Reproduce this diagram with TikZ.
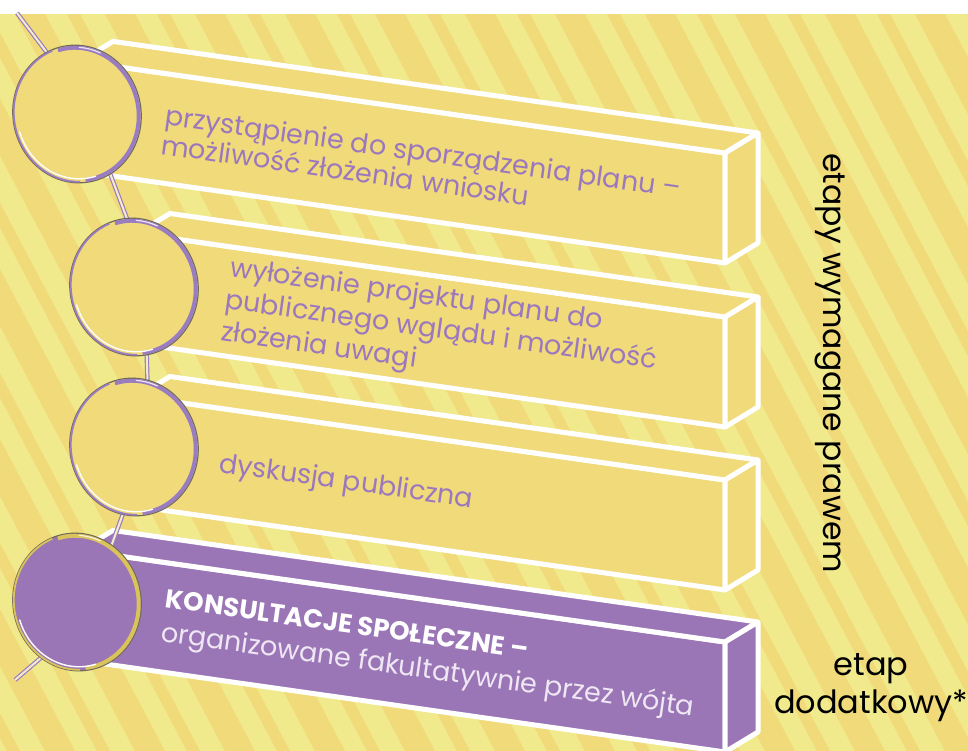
\documentclass[tikz,border=0pt]{standalone}
\usepackage{fontspec}
\setmainfont{Poppins}
\usetikzlibrary{shapes.geometric}
\definecolor{bglight}{HTML}{F0EA8C}
\definecolor{bgdark}{HTML}{F1DA7A}
\definecolor{barfill}{HTML}{F1DA7A}
\definecolor{barpurple}{HTML}{9B76B7}
\definecolor{txtpurple}{HTML}{9B78BE}
\definecolor{rimpurple}{HTML}{9A7CC0}
\definecolor{rimgold}{HTML}{D9C35A}
\definecolor{rimdark}{HTML}{6E6A55}
\definecolor{lavtext}{HTML}{EFE7F4}
\definecolor{threadin}{HTML}{F3ECC8}
\tikzset{
  facestyle/.style={draw=white, line width=5pt, line join=round},
  disc/.style={ellipse, minimum width=128pt, minimum height=138pt, inner sep=0pt, rotate=12, line width=1.2pt},
  yellowdisc/.style={disc, fill=barfill, draw=rimdark},
  purpledisc/.style={disc, fill=barpurple, draw=rimdark},
  thread/.style={draw=rimpurple, line width=1.2pt, double=threadin, double distance=2pt},
  bartext/.style={rotate=-8, inner sep=0pt, align=left, text=txtpurple},
  sidetext/.style={inner sep=0pt, text=black, font=\fontsize{32}{38}\selectfont},
}
\newcommand\stagebar[3]{%
  \pgfmathsetmacro\yl{#2-0.142*(725-#1)}%
  \path[facestyle, fill=#3] (#1,\yl) -- (725,#2) -- (725,#2+110) -- (#1,\yl+110) -- cycle;
  \path[facestyle, fill=#3] (#1,\yl) -- (725,#2) -- (758,#2-20) -- (#1+33,\yl-20) -- cycle;
  \path[facestyle, fill=#3] (725,#2) -- (758,#2-20) -- (758,#2+90) -- (725,#2+110) -- cycle;
}
% rim and highlight of a disc node
\newcommand\discdeco[2]{%
  \begin{scope}[shift={(#1.center)}, rotate=12]
    \draw[#2, line width=1.8pt] (100:63pt and 68pt) arc[start angle=100, end angle=260, x radius=63pt, y radius=68pt];
    \draw[#2, line width=4pt] (-95:61.5pt and 66.5pt) arc[start angle=-95, end angle=95, x radius=61.5pt, y radius=66.5pt];
    \draw[white, line width=1.4pt, line cap=round] (185:60pt and 65pt) arc[start angle=185, end angle=275, x radius=60pt, y radius=65pt];
    \draw[white, line width=1.2pt, line cap=round, opacity=0.8] (55:62pt and 67pt) arc[start angle=55, end angle=75, x radius=62pt, y radius=67pt];
  \end{scope}
}
\begin{document}
\begin{tikzpicture}[x=1pt,y=-1pt]
\useasboundingbox (0,0) rectangle (968,751);
% background
\fill[bglight] (0,0) rectangle (968,751);
\begin{scope}
  \clip (0,14) rectangle (968,751);
  \foreach \k [evaluate=\k as \xa using 825+90*\k] in {-14,...,2}{
    \fill[bgdark] (\xa,14) -- (\xa+30,14) -- (\xa+430,770) -- (\xa+400,770) -- cycle;
    \fill[bgdark] (\xa+52,14) -- (\xa+65,14) -- (\xa+465,770) -- (\xa+452,770) -- cycle;
  }
\end{scope}
\fill[white] (0,0) rectangle (968,14);

% bars
\stagebar{80}{153}{barfill}
\stagebar{137}{317}{barfill}
\stagebar{137}{480}{barfill}
\stagebar{80}{642}{barpurple}

% thread
\coordinate (s0) at (17,13);
\coordinate (s1) at (60,70);
\coordinate (s2) at (105,160);
\coordinate (s3) at (135,240);
\coordinate (s4) at (146,330);
\coordinate (s5) at (148,400);
\coordinate (s6) at (128,500);
\coordinate (s7) at (108,555);
\coordinate (s8) at (50,650);
\coordinate (s9) at (15,680);
\draw[thread] (s0) -- (s1);
\draw[thread] (s2) -- (s3);
\draw[thread] (s4) -- (s5);
\draw[thread] (s6) -- (s7);
\draw[thread] (s8) -- (s9);

% discs
\node[yellowdisc] (c1) at (77,114) {};
\node[yellowdisc] (c2) at (134,287) {};
\node[yellowdisc] (c3) at (134,447) {};
\node[purpledisc] (c4) at (77,602) {};
\discdeco{c1}{rimpurple}
\discdeco{c2}{rimpurple}
\discdeco{c3}{rimpurple}
\discdeco{c4}{rimgold}

% texts (base anchor = baseline of the last line)
\node[bartext, anchor=base west, font=\fontsize{27}{28}\selectfont] (t1) at (160,154)
  {przystąpienie do sporządzenia planu –\\możliwość złożenia wniosku};
\node[bartext, anchor=base west, font=\fontsize{27}{32}\selectfont] (t2) at (220,340)
  {wyłożenie projektu planu do\\publicznego wglądu i możliwość\\złożenia uwagi};
\node[bartext, anchor=base west, font=\fontsize{27}{32}\selectfont] (t3) at (218,472)
  {dyskusja publiczna};
\node[bartext, anchor=base west, text=white, font=\fontsize{27}{34}\selectfont] (t4) at (160,641)
  {{\fontsize{26}{34}\selectfont\bfseries KONSULTACJE SPOŁECZNE –}\\{\color{lavtext}organizowane fakultatywnie przez wójta}};

\node[sidetext, rotate=-90, anchor=base west, font=\fontsize{31.5}{38}\selectfont] (r1) at (823,153) {etapy wymagane prawem};
\node[sidetext, align=center, anchor=base] (r2) at (871,713) {etap\\dodatkowy*};
\end{tikzpicture}
\end{document}
